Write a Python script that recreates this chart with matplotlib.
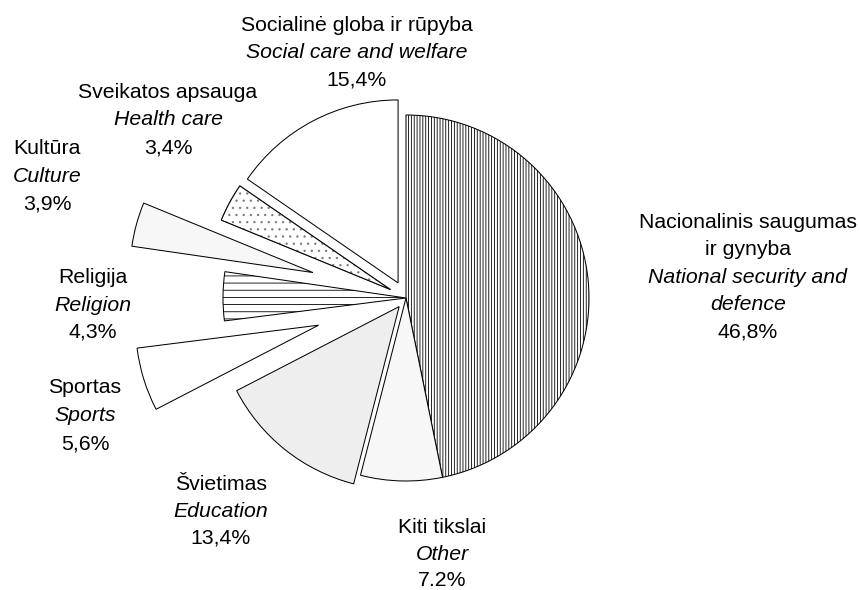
import matplotlib
matplotlib.use("Agg")
import matplotlib.pyplot as plt
from matplotlib.patches import Wedge

# ---- data ----
labels_lt = ["Nacionalinis saugumas\nir gynyba", "Kiti tikslai", "Švietimas", "Sportas",
             "Religija", "Kultūra", "Sveikatos apsauga", "Socialinė globa ir rūpyba"]
labels_en = ["National security and\ndefence", "Other", "Education", "Sports",
             "Religion", "Culture", "Health care", "Social care and welfare"]
values = [46.8, 7.2, 13.4, 5.6, 4.3, 3.9, 3.4, 15.4]
pct_labels = ["46,8%", "7.2%", "13,4%", "5,6%", "4,3%", "3,9%", "3,4%", "15,4%"]

# ---- style ----
explode = [0.0, 0.0, 0.06, 0.50, 0.0, 0.527, 0.096, 0.093]
colors = ["white", "#f7f7f7", "#eeeeee", "white", "white", "#f7f7f7", "white", "white"]
hatches = ["|||||", None, None, None, "--", None, "..", None]
hatch_colors = ["black", "black", "black", "black", "black", "black", "#777777", "black"]

W, H, DPI = 860, 590, 86
CX, CY, R = 406, 298, 183  # pixel centre / radius

plt.rcParams["font.family"] = ["Liberation Sans", "DejaVu Sans"]
plt.rcParams["hatch.linewidth"] = 0.7

fig = plt.figure(figsize=(W / DPI, H / DPI), dpi=DPI)
ax = fig.add_axes([0, 0, 1, 1])
wedges, _ = ax.pie(values, explode=explode, colors=colors, startangle=90,
                   counterclock=False, radius=1.0,
                   wedgeprops=dict(edgecolor="black", linewidth=0.85))
for w, h, hc in zip(wedges, hatches, hatch_colors):
    if h:
        w.set_hatch(h)
        if hc != "black":
            w.set_edgecolor(hc)
            ax.add_patch(Wedge(w.center, w.r, w.theta1, w.theta2,
                               facecolor="none", edgecolor="black", linewidth=0.85))
ax.set_xlim(-CX / R, (W - CX) / R)
ax.set_ylim(-(H - CY) / R, CY / R)
ax.axis("off")

FS = 17.8
# label layout: (x centre px, list of baselines px) per category
layout = [
    (748, [228, 255, 283, 310, 337]),
    (442, [533, 560, 586]),
    (221, [490, 517, 544]),
    (85, [393, 421, 449]),
    (93, [283, 311, 338]),
    (47, [154, 182, 209]),
    (168, [98, 125, 153]),
    (357, [31, 58, 85]),
]


def put(x, y, s, style="normal"):
    fig.text(x / W, 1 - y / H, s, ha="center", va="baseline",
             fontsize=FS, style=style, color="black")


for i, (x, ys) in enumerate(layout):
    lines = [(t, "normal") for t in labels_lt[i].split("\n")] + \
            [(t, "italic") for t in labels_en[i].split("\n")] + \
            [(pct_labels[i], "normal")]
    for (t, st), y in zip(lines, ys):
        put(x, y, t, st)

fig.savefig("out.png", dpi=DPI)
